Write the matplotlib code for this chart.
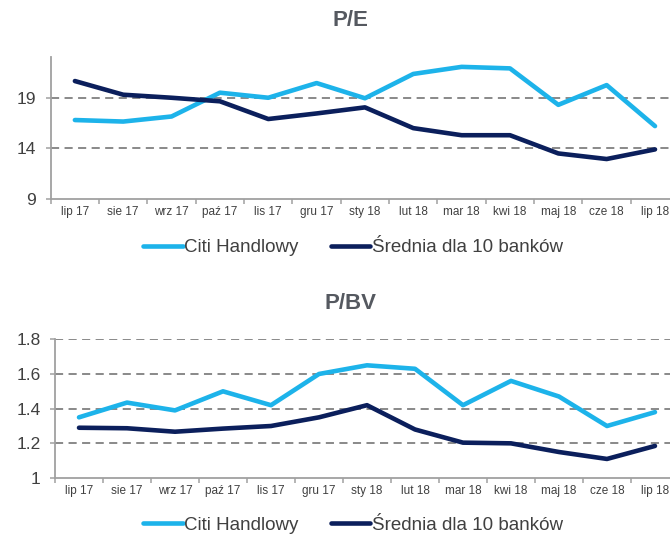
import numpy as np
import matplotlib.pyplot as plt

months = ['lip 17', 'sie 17', 'wrz 17', 'paź 17', 'lis 17', 'gru 17', 'sty 18',
          'lut 18', 'mar 18', 'kwi 18', 'maj 18', 'cze 18', 'lip 18']
series_names = ['Citi Handlowy', 'Średnia dla 10 banków']

pe_citi = [16.8, 16.65, 17.15, 19.5, 19.0, 20.45, 18.95, 21.35, 22.05, 21.9, 18.3, 20.25, 16.2]
pe_avg = [20.65, 19.3, 19.0, 18.65, 16.9, 17.45, 18.05, 16.0, 15.3, 15.3, 13.5, 12.95, 13.9]

pbv_citi = [1.35, 1.435, 1.39, 1.50, 1.42, 1.60, 1.65, 1.63, 1.42, 1.56, 1.47, 1.30, 1.38]
pbv_avg = [1.29, 1.287, 1.267, 1.285, 1.30, 1.35, 1.42, 1.28, 1.204, 1.20, 1.15, 1.11, 1.185]

CITI = '#1DB3EA'
AVG = '#0B1F5C'
GRID = '#808080'
SPINE = '#A0A0A0'
TXT = '#404040'
TITLE = '#555960'

plt.rcParams['font.family'] = ['Liberation Sans', 'DejaVu Sans']


def draw_panel(ax, citi, avg, ylim, yticks, ylabels, grid_vals):
    x = np.arange(len(months)) + 0.5
    for g in grid_vals:
        ax.axhline(g, color=GRID, lw=1.3, ls=(0, (4.5, 3)), zorder=1)
    ax.plot(x, citi, color=CITI, lw=3.3, solid_capstyle='round', zorder=3)
    ax.plot(x, avg, color=AVG, lw=3.3, solid_capstyle='round', zorder=3)
    ax.set_xlim(0, len(months))
    ax.set_ylim(*ylim)
    ax.set_yticks(yticks)
    ax.set_yticklabels(ylabels)
    ax.set_xticks(np.arange(len(months) + 1))
    ax.set_xticklabels([])
    ax.set_xticks(x, minor=True)
    ax.set_xticklabels(months, minor=True, family=['Liberation Sans Narrow', 'Liberation Sans'],
                       fontsize=8.5, color=TXT)
    ax.tick_params(axis='x', which='major', length=3.5, width=1.1, color=SPINE, direction='out')
    ax.tick_params(axis='x', which='minor', length=0, pad=5)
    ax.tick_params(axis='y', length=3.5, width=1.1, color=SPINE, labelsize=12.5,
                   labelcolor=TXT, pad=7)
    for s in ['top', 'right']:
        ax.spines[s].set_visible(False)
    for s in ['left', 'bottom']:
        ax.spines[s].set_color(SPINE)
        ax.spines[s].set_linewidth(1.3)


fig = plt.figure(figsize=(6.7, 5.35), dpi=100)

ax1 = fig.add_axes([0.0757, 0.628, 0.938, 0.265])
draw_panel(ax1, pe_citi, pe_avg, (9, 23), [9, 14, 19], ['9', '14', '19'], [14, 19])

ax2 = fig.add_axes([0.0821, 0.1065, 0.9313, 0.2593])
draw_panel(ax2, pbv_citi, pbv_avg, (1, 1.8), [1, 1.2, 1.4, 1.6, 1.8],
           ['1', '1.2', '1.4', '1.6', '1.8'], [1.2, 1.4, 1.6, 1.8])

fig.text(0.523, 0.9626, 'P/E', ha='center', va='center', fontsize=16, fontweight='bold', color=TITLE)
fig.text(0.523, 0.4336, 'P/BV', ha='center', va='center', fontsize=16, fontweight='bold', color=TITLE)

for ax, ypos in [(ax1, 0.537), (ax2, 0.0187)]:
    handles = ax.get_lines()[-2:]
    fig.legend(handles, series_names, loc='center', bbox_to_anchor=(0.527, ypos), ncol=2,
               frameon=False, fontsize=13.5, handlelength=2.1, handletextpad=0.1,
               columnspacing=1.7, labelcolor=TXT, borderpad=0)

fig.savefig('out.png', dpi=100)
